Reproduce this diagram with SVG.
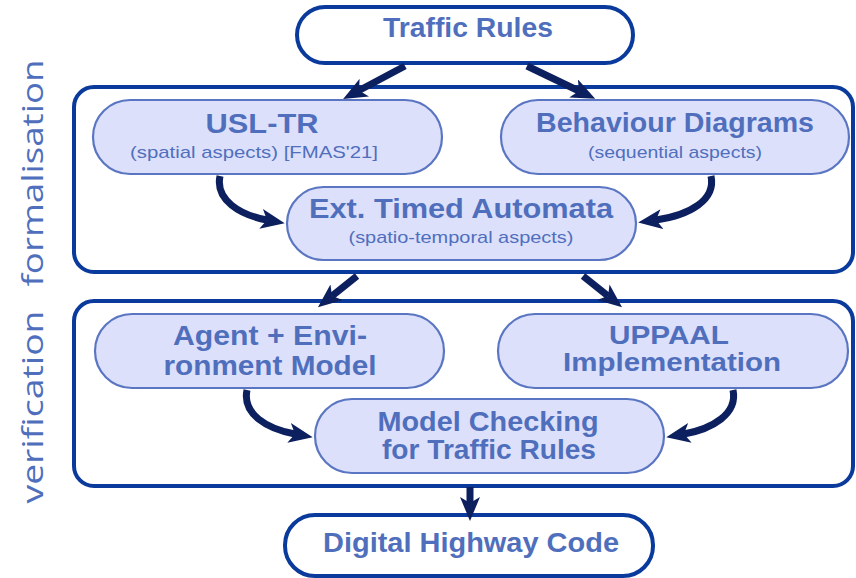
<svg xmlns="http://www.w3.org/2000/svg" width="856" height="578" viewBox="0 0 856 578">
<defs>
<marker id="ah" viewBox="0 0 24 20" refX="6" refY="10" markerWidth="24" markerHeight="20" markerUnits="userSpaceOnUse" orient="auto">
<path d="M0,0 L24,10 L0,20 L6,10 z" fill="#0c1f5e"/>
</marker>
<style>
.box{fill:#fff;stroke:#0a3a9b;stroke-width:4}
.node{fill:#dde0fb;stroke:#5a76c2;stroke-width:2.2}
.term{fill:#fff;stroke:#0a3a9b;stroke-width:4}
.t{font-family:"Liberation Sans",Arial,sans-serif;font-weight:bold;fill:#4f6fbd;text-anchor:middle}
.s{font-family:"Liberation Sans",Arial,sans-serif;fill:#4f6fbd;text-anchor:middle}
.side{font-family:"Open Sans","Liberation Sans",sans-serif;font-weight:normal;fill:#4f6fbd;text-anchor:middle;font-size:30px}
.c{fill:none;stroke:#0c1f5e;stroke-width:7;marker-end:url(#ah)}
</style>
</defs>
<g id="container-formalisation">
<rect class="box" x="74" y="87" width="779" height="185" rx="20"/>
</g>
<g id="container-verification">
<rect class="box" x="74" y="301" width="779" height="185" rx="20"/>
</g>
<text class="side" transform="translate(43,173) rotate(-90)" textLength="227" lengthAdjust="spacingAndGlyphs">formalisation</text>
<text class="side" transform="translate(43,407) rotate(-90)" textLength="193" lengthAdjust="spacingAndGlyphs">verification</text>
<g id="traffic-rules">
<rect class="term" x="297" y="7" width="336" height="56" rx="28"/>
<text class="t" x="468" y="37" font-size="27" textLength="170" lengthAdjust="spacingAndGlyphs">Traffic Rules</text>
</g>
<g id="usl-tr">
<rect class="node" x="93" y="100" width="349" height="74" rx="37"/>
<text class="t" x="262" y="133" font-size="27" textLength="113" lengthAdjust="spacingAndGlyphs">USL-TR</text>
<text class="s" x="254" y="158" font-size="17" textLength="248" lengthAdjust="spacingAndGlyphs">(spatial aspects) [FMAS'21]</text>
</g>
<g id="behaviour-diagrams">
<rect class="node" x="501" y="100" width="348" height="74" rx="37"/>
<text class="t" x="675" y="132" font-size="27" textLength="278" lengthAdjust="spacingAndGlyphs">Behaviour Diagrams</text>
<text class="s" x="675" y="158" font-size="17" textLength="174" lengthAdjust="spacingAndGlyphs">(sequential aspects)</text>
</g>
<g id="ext-timed-automata">
<rect class="node" x="287" y="187" width="349" height="73" rx="36.5"/>
<text class="t" x="461" y="218" font-size="27" textLength="304" lengthAdjust="spacingAndGlyphs">Ext. Timed Automata</text>
<text class="s" x="461" y="243" font-size="17" textLength="225" lengthAdjust="spacingAndGlyphs">(spatio-temporal aspects)</text>
</g>
<g id="agent-environment-model">
<rect class="node" x="95" y="314" width="349" height="74" rx="37"/>
<text class="t" x="270" y="345" font-size="27" textLength="194" lengthAdjust="spacingAndGlyphs">Agent + Envi-</text>
<text class="t" x="270" y="375" font-size="27" textLength="213" lengthAdjust="spacingAndGlyphs">ronment Model</text>
</g>
<g id="uppaal-implementation">
<rect class="node" x="498" y="314" width="350" height="74" rx="37"/>
<text class="t" x="669" y="344" font-size="25" textLength="120" lengthAdjust="spacingAndGlyphs">UPPAAL</text>
<text class="t" x="672" y="371" font-size="25" textLength="218" lengthAdjust="spacingAndGlyphs">Implementation</text>
</g>
<g id="model-checking">
<rect class="node" x="315" y="399" width="349" height="74" rx="37"/>
<text class="t" x="488" y="431" font-size="27" textLength="221" lengthAdjust="spacingAndGlyphs">Model Checking</text>
<text class="t" x="489" y="459" font-size="27" textLength="214" lengthAdjust="spacingAndGlyphs">for Traffic Rules</text>
</g>
<g id="digital-highway-code">
<rect class="term" x="285" y="515" width="368" height="61" rx="30"/>
<text class="t" x="471" y="552" font-size="27" textLength="296" lengthAdjust="spacingAndGlyphs">Digital Highway Code</text>
</g>
<g id="connectors">
<path class="c" d="M405,66 L359,90.5"/>
<path class="c" d="M527,66 L579,91"/>
<path class="c" d="M220,176 C215,200 240,215 267,220"/>
<path class="c" d="M711,176 C716,200 690,215 656,220"/>
<path class="c" d="M357,276 L332,296"/>
<path class="c" d="M583,276 L608,296"/>
<path class="c" d="M247,390 C242,414 267,429 295,434"/>
<path class="c" d="M733,390 C738,414 712,429 684,434"/>
<path class="c" d="M470,487 L470,503"/>
</g>
</svg>
